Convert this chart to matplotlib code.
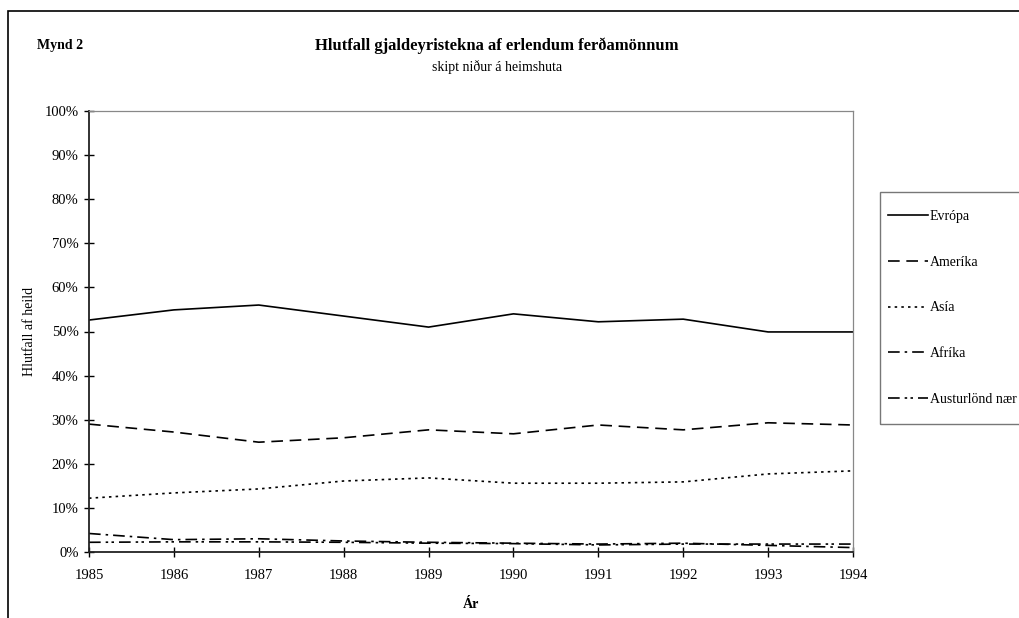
import matplotlib
matplotlib.use("Agg")
import matplotlib.pyplot as plt
from matplotlib.patches import Rectangle
from matplotlib.ticker import FuncFormatter, MultipleLocator

years = [1985, 1986, 1987, 1988, 1989, 1990, 1991, 1992, 1993, 1994]
evropa = [52.6, 54.9, 56.0, 53.5, 51.0, 54.0, 52.2, 52.8, 49.9, 49.9]
amerika = [29.0, 27.2, 24.9, 25.9, 27.7, 26.8, 28.8, 27.7, 29.3, 28.8]
asia = [12.2, 13.4, 14.3, 16.1, 16.8, 15.6, 15.6, 15.9, 17.7, 18.4]
afrika = [4.2, 2.8, 3.0, 2.5, 2.2, 2.0, 1.8, 2.0, 1.5, 1.0]
austurlond = [2.2, 2.3, 2.3, 2.2, 2.0, 1.9, 1.6, 1.8, 1.8, 1.8]
labels = ["Evrópa", "Ameríka", "Asía", "Afríka", "Austurlönd nær"]

plt.rcParams['font.family'] = ['Liberation Serif', 'DejaVu Serif']

W, H = 1019, 618
fig = plt.figure(figsize=(W / 100, H / 100), dpi=100)

# outer frame (extends beyond right/bottom edges)
fig.patches.append(Rectangle((8 / W, -0.1), 1.2, (1 - 11 / H) + 0.1,
                             transform=fig.transFigure, fill=False,
                             edgecolor='black', linewidth=1.2))

ax = fig.add_axes([89 / W, 1 - 552 / H, (853 - 89) / W, (552 - 111) / H])

lw = 1.2
ax.plot(years, evropa, color='black', lw=lw, linestyle='-', label=labels[0])
ax.plot(years, amerika, color='black', lw=lw, linestyle=(0, (7, 4)), label=labels[1])
ax.plot(years, asia, color='black', lw=lw, linestyle=(0, (1.5, 2.5)), label=labels[2])
ax.plot(years, afrika, color='black', lw=lw, linestyle=(0, (7, 3, 1.5, 3)), label=labels[3])
ax.plot(years, austurlond, color='black', lw=lw, linestyle=(0, (7, 3, 1.5, 2, 1.5, 3)), label=labels[4])

ax.set_xlim(1985, 1994)
ax.set_ylim(0, 100)
ax.set_xticks(years)
ax.yaxis.set_major_locator(MultipleLocator(10))
ax.yaxis.set_major_formatter(FuncFormatter(lambda v, p: f"{int(round(v))}%"))
ax.tick_params(axis='both', direction='inout', length=7, width=1, labelsize=10.5, colors='black')
ax.tick_params(axis='x', pad=9)
ax.tick_params(axis='y', pad=4)

for s in ['left', 'bottom']:
    ax.spines[s].set_linewidth(1.3)
    ax.spines[s].set_color('#222222')
for s in ['top', 'right']:
    ax.spines[s].set_linewidth(0.9)
    ax.spines[s].set_color('#888888')

ax.set_ylabel("Hlutfall af heild", fontsize=10, labelpad=6)
ax.set_xlabel("Ár", fontsize=10, fontweight='bold', labelpad=11)

fig.text(37 / W, 1 - 46 / H, "Mynd 2", fontsize=10, fontweight='bold', ha='left', va='center')
fig.text(497 / W, 1 - 46 / H, "Hlutfall gjaldeyristekna af erlendum ferðamönnum",
         fontsize=12, fontweight='bold', ha='center', va='center')
fig.text(497 / W, 1 - 67 / H, "skipt niður á heimshuta", fontsize=10, ha='center', va='center')

# legend box frame (extends beyond the right edge like the reference)
fig.patches.append(Rectangle((880 / W, 1 - 424 / H), 0.5, (424 - 192) / H,
                             transform=fig.transFigure, fill=False,
                             edgecolor='#777777', linewidth=1.0))

leg = fig.legend(loc='upper left', bbox_to_anchor=(884 / W, 1 - 206 / H),
                 bbox_transform=fig.transFigure, fontsize=10, frameon=False,
                 handlelength=2.9, handletextpad=0.1, labelspacing=2.35,
                 borderpad=0.3, borderaxespad=0)

fig.savefig("out.png", dpi=100)
